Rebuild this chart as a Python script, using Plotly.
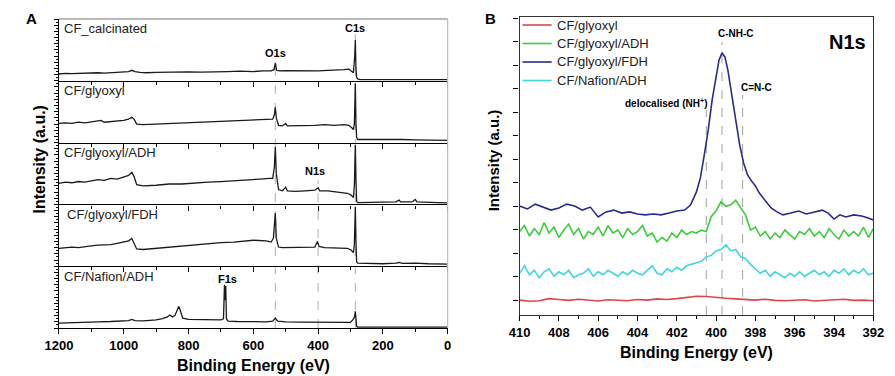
import plotly.graph_objects as go

# ---------------- Panel A data (survey spectra, arbitrary units, 0-100 per sub-panel) ----------------
names_A = ["CF_calcinated", "CF/glyoxyl", "CF/glyoxyl/ADH", "CF/glyoxyl/FDH", "CF/Nafion/ADH"]

e_calc = [1200, 1180, 1160, 1140, 1120, 1100, 1080, 1060, 1040, 1020, 1000, 985, 975, 965, 950, 930, 900, 870,
          840, 800, 760, 720, 680, 640, 600, 570, 545, 536, 532, 528, 520, 500, 470, 440, 400, 370, 340, 320, 305,
          296, 291, 287, 285, 283, 281, 278, 270, 240, 200, 160, 120, 80, 40, 0]
i_calc = [11, 12, 11.5, 12, 12.5, 12, 13, 12.5, 13, 13.5, 14, 15, 17, 15, 13.5, 13, 13.5, 14,
          14, 14.5, 14, 15, 15, 15.5, 15, 16, 16, 18, 29, 17, 16, 16.5, 16, 16.5, 16, 17, 17, 18, 19,
          16, 13, 40, 66, 20, 6, 3, 2, 2, 2, 2.5, 2, 2, 2.5, 2]

e_gly = [1200, 1180, 1160, 1140, 1120, 1100, 1070, 1060, 1040, 1020, 1000, 985, 975, 968, 960, 940, 900, 860,
         820, 780, 740, 700, 660, 620, 580, 550, 540, 535, 532, 529, 522, 510, 500, 495, 470, 440, 410, 380, 350,
         320, 305, 296, 291, 288, 285, 283, 281, 278, 260, 230, 200, 170, 150, 140, 100, 60, 30, 0]
i_gly = [31, 32, 31, 33, 32, 34, 36, 33, 34, 35, 36, 38, 41, 38, 30, 29, 30, 31,
         32, 33, 34, 35, 36, 36, 37, 38, 38, 45, 57, 40, 28, 27, 31, 27, 27, 28, 28, 29, 28,
         29, 28, 24, 21, 30, 96, 30, 8, 5, 5, 5.5, 5, 5, 6, 5, 4.5, 4, 4, 3.5]

e_adh = [1200, 1180, 1160, 1140, 1120, 1100, 1080, 1060, 1040, 1020, 1000, 985, 975, 968, 960, 940, 900, 860,
         820, 780, 740, 700, 660, 620, 580, 550, 540, 535, 532, 529, 522, 510, 500, 495, 470, 440, 410, 400, 395,
         370, 340, 310, 298, 291, 288, 285, 283, 281, 278, 250, 200, 160, 150, 145, 110, 100, 95, 60, 30, 0]
i_adh = [34, 36, 35, 37, 36, 38, 40, 39, 42, 41, 44, 47, 52, 45, 32, 30, 31, 33,
         33, 35, 36, 37, 38, 40, 41, 42, 42, 60, 93, 50, 24, 22, 28, 22, 21, 22, 23, 27, 22,
         22, 20, 18, 15, 11, 30, 96, 40, 5, 3, 3, 3.5, 4, 7, 4, 4, 8, 4, 3, 3, 2.5]

e_fdh = [1200, 1180, 1160, 1140, 1120, 1100, 1080, 1060, 1040, 1020, 1000, 985, 975, 968, 960, 940, 900, 860,
         820, 780, 740, 700, 660, 620, 600, 560, 545, 538, 532, 529, 522, 510, 470, 440, 410, 402, 397, 380, 350,
         310, 298, 291, 288, 285, 283, 281, 278, 240, 200, 160, 150, 140, 100, 60, 30, 0]
i_fdh = [29, 30, 31, 30, 32, 33, 34, 34, 35, 37, 39, 41, 45, 38, 28, 27, 29, 31,
         33, 34, 36, 38, 39, 41, 42, 41, 39, 45, 86, 45, 31, 30, 30, 30, 31, 40, 32, 30, 30,
         29, 26, 22, 35, 96, 40, 7, 5, 4.5, 4, 5, 6, 4.5, 5, 4, 4, 3.5]

e_naf = [1200, 1160, 1120, 1080, 1040, 1000, 985, 975, 965, 940, 900, 880, 865, 858, 850, 842, 835, 830, 825,
         818, 800, 760, 720, 700, 692, 689, 687, 685, 683, 678, 650, 600, 560, 540, 532, 525, 500, 450, 400, 350,
         310, 300, 292, 288, 285, 283, 281, 278, 240, 200, 160, 120, 80, 40, 0]
i_naf = [8, 9, 9.5, 10, 10.5, 11, 12, 14, 12, 11.5, 13, 15, 18, 21, 18, 20, 30, 35, 28,
         16, 14, 14, 13.5, 13, 15, 70, 45, 68, 15, 11, 10.5, 10, 10, 11, 16, 11, 10, 9.5, 9, 9,
         8.5, 9, 14, 17, 27, 15, 3, 1.5, 1.5, 1.5, 2, 2, 1.5, 2, 1.5]

survey_E = [e_calc, e_gly, e_adh, e_fdh, e_naf]
survey_I = [i_calc, i_gly, i_adh, i_fdh, i_naf]

ticks_A = [1200, 1000, 800, 600, 400, 200, 0]

# ---------------- Panel B data (N1s high resolution) ----------------
names_B = ["CF/glyoxyl", "CF/glyoxyl/ADH", "CF/glyoxyl/FDH", "CF/Nafion/ADH"]
colors_B = ["#d9474b", "#3ccc3c", "#2a2a8c", "#3fd6df"]

e_red = [410, 409.5, 409, 408.5, 408, 407.5, 407, 406.5, 406, 405.5, 405, 404.5, 404, 403.5, 403, 402.5, 402,
         401.5, 401, 400.5, 400, 399.5, 399, 398.5, 398, 397.5, 397, 396.5, 396, 395.5, 395, 394.5, 394, 393.5,
         393, 392.5, 392]
i_red = [5.0, 4.6, 4.8, 5.5, 5.2, 4.9, 5.3, 5.0, 4.7, 5.1, 5.0, 4.8, 5.2, 5.0, 5.4, 5.2, 5.5,
         5.9, 6.3, 6.2, 5.8, 5.6, 5.4, 5.3, 5.0, 5.3, 4.9, 4.8, 5.0, 5.1, 4.7, 4.9, 5.2, 5.3,
         4.9, 5.0, 4.8]

e_grid = [410.0, 409.75, 409.5, 409.25, 409.0, 408.75, 408.5, 408.25, 408.0, 407.75, 407.5, 407.25, 407.0,
          406.75, 406.5, 406.25, 406.0, 405.75, 405.5, 405.25, 405.0, 404.75, 404.5, 404.25, 404.0, 403.75,
          403.5, 403.25, 403.0, 402.75, 402.5, 402.25, 402.0, 401.75, 401.5, 401.25, 401.0, 400.75, 400.5,
          400.25, 400.0, 399.75, 399.5, 399.25, 399.0, 398.75, 398.5, 398.25, 398.0, 397.75, 397.5, 397.25,
          397.0, 396.75, 396.5, 396.25, 396.0, 395.75, 395.5, 395.25, 395.0, 394.75, 394.5, 394.25, 394.0,
          393.75, 393.5, 393.25, 393.0, 392.75, 392.5, 392.25, 392.0]
i_green = [28, 30, 26.5, 29, 27, 31, 27.5, 29.5, 26, 28.5, 30.5, 27, 29,
           25.5, 28, 27, 29.5, 26.5, 30, 27.5, 28.5, 26, 29, 27, 28, 30,
           26.5, 27.5, 24.5, 26, 24.8, 27.5, 26, 28.5, 27, 28, 27.5, 28.5, 28,
           33, 35, 38, 36.5, 37, 38.5, 36, 33.5, 28.5, 29.5, 26.5, 28, 25.5,
           27.5, 26, 28.5, 27, 25.5, 28, 27, 29, 26.5, 28, 26, 29, 27,
           25.5, 28.5, 26.5, 28, 26.5, 29.5, 26, 29]
i_cyan = [14, 16.5, 13.5, 15, 12.5, 14.5, 15.5, 13, 14.5, 13.5, 15, 12.5, 13.5,
          14, 15.5, 13, 14.5, 13.5, 15, 14, 13, 14.5, 13.5, 15, 14, 13.5,
          15, 16.5, 14, 13.5, 15.5, 14.5, 16, 15, 16.5, 17, 17.5, 18, 19.5,
          20, 21.5, 22, 23.5, 21.5, 22, 19.5, 19, 17, 15.5, 14, 15, 13,
          14.5, 13.5, 12.5, 14, 13, 14.5, 13, 14, 15, 13.5, 14.5, 13, 15,
          14, 15.5, 13.5, 15, 14, 15.5, 13.5, 14]

e_blue = [410, 409.6, 409.2, 408.8, 408.4, 408.0, 407.6, 407.2, 406.8, 406.4, 406.0, 405.6, 405.2, 404.8, 404.4,
          404.0, 403.6, 403.2, 402.8, 402.4, 402.0, 401.6, 401.3, 401.0, 400.8, 400.6, 400.4, 400.2, 400.0, 399.85,
          399.7, 399.55, 399.4, 399.2, 399.0, 398.8, 398.6, 398.4, 398.2, 398.0, 397.8, 397.5, 397.2, 396.9, 396.6,
          396.2, 395.8, 395.4, 395.0, 394.6, 394.3, 394.0, 393.7, 393.4, 393.0, 392.6, 392.3, 392.0]
i_blue = [36.6, 35.6, 37.2, 36.2, 35.2, 35.9, 37.2, 36.6, 35.2, 36.2, 32.9, 34.6, 35.2, 34.2, 34.6,
          33.9, 33.6, 33.9, 33.6, 34.2, 34.9, 35.2, 36.9, 41.3, 46.0, 53.7, 62.1, 72.2, 80.5, 85.6,
          87.9, 86.6, 82.2, 73.8, 64.8, 57.1, 51.0, 47.0, 45.0, 43.3, 40.9, 38.3, 35.9, 34.6, 33.6,
          34.2, 34.9, 33.9, 34.6, 35.2, 34.2, 32.2, 33.6, 32.9, 33.6, 33.2, 32.6, 31.9]

n1s_E = [e_red, e_grid, e_blue, e_grid]
n1s_I = [i_red, i_green, i_blue, i_cyan]
ticks_B = [410, 408, 406, 404, 402, 400, 398, 396, 394, 392]

# ---------------- layout helpers (page body has an 8px margin) ----------------
WIN_W, WIN_H, OFF = 895, 376, 8
W, H = WIN_W - OFF, WIN_H - OFF
def px_x(p): return (p - OFF) / W
def px_y(p): return 1 - (p - OFF) / H

FONT = "Arial, Liberation Sans, sans-serif"
A_left, A_right = 46, 446
A_bounds = [19, 80.8, 142.6, 204.4, 266.2, 328]
B_left, B_right, B_top, B_bot = 520, 884, 17, 315

fig = go.Figure()
layout = dict(width=W, height=H, margin=dict(l=0, r=0, t=0, b=0),
              paper_bgcolor="white", plot_bgcolor="white", showlegend=False,
              font=dict(family=FONT, color="black"))

for k in range(5):
    n = "" if k == 0 else str(k + 1)
    fig.add_trace(go.Scatter(x=survey_E[k], y=survey_I[k], mode="lines", name=names_A[k],
                             line=dict(color="#1a1a1a", width=1.3),
                             xaxis="x" + n, yaxis="y" + n, hoverinfo="skip"))
    last = (k == 4)
    layout["xaxis" + n] = dict(domain=[px_x(A_left), px_x(A_right)], range=[1200, 0], anchor="y" + n,
                               showline=True, linecolor="black", linewidth=1.2, mirror=False,
                               ticks="outside", tickvals=ticks_A, ticklen=5, tickwidth=1, tickcolor="black",
                               minor=dict(dtick=100, ticklen=3, ticks="outside", tickcolor="black"),
                               showticklabels=last, showgrid=False, zeroline=False,
                               tickfont=dict(size=13, weight="bold", family=FONT),
                               matches=None if k == 0 else "x")
    layout["yaxis" + n] = dict(domain=[px_y(A_bounds[k + 1]), px_y(A_bounds[k])], range=[0, 100],
                               anchor="x" + n, showline=True, linecolor="black", linewidth=1.2,
                               ticks="outside", tick0=0, dtick=10, ticklen=4, tickcolor="black",
                               minor=dict(dtick=5, ticklen=2, ticks="outside", tickcolor="black"),
                               showticklabels=False, showgrid=False, zeroline=False)

for k in range(4):
    fig.add_trace(go.Scatter(x=n1s_E[k], y=n1s_I[k], mode="lines", name=names_B[k],
                             line=dict(color=colors_B[k], width=1.6),
                             xaxis="x6", yaxis="y6", hoverinfo="skip"))

layout["xaxis6"] = dict(domain=[px_x(B_left), px_x(B_right)], range=[410, 392], anchor="y6",
                        showline=True, linecolor="#333", linewidth=1.2, mirror=True,
                        ticks="outside", tickvals=ticks_B, ticklen=5, tickcolor="black",
                        minor=dict(dtick=1, ticklen=3, ticks="outside", tickcolor="black"),
                        showgrid=False, zeroline=False, tickfont=dict(size=13, weight="bold", family=FONT))
layout["yaxis6"] = dict(domain=[px_y(B_bot), px_y(B_top)], range=[0, 100], anchor="x6",
                        showline=True, linecolor="#333", linewidth=1.2, mirror=True,
                        ticks="outside", tick0=4.87, dtick=7.886, ticklen=5, tickcolor="black",
                        showticklabels=False, showgrid=False, zeroline=False)

shapes = []
# frame of panel A (top & right)
shapes.append(dict(type="line", xref="paper", yref="paper", x0=px_x(A_left), x1=px_x(A_right),
                   y0=px_y(A_bounds[0]), y1=px_y(A_bounds[0]), line=dict(color="#777", width=1.2)))
shapes.append(dict(type="line", xref="paper", yref="paper", x0=px_x(A_right), x1=px_x(A_right),
                   y0=px_y(A_bounds[5]), y1=px_y(A_bounds[0]), line=dict(color="#bbb", width=1.2)))
# guide lines panel A
for e, ytop in [(532, 66), (400, 180), (285, 34)]:
    shapes.append(dict(type="line", xref="x5", yref="paper", x0=e, x1=e, y0=px_y(A_bounds[5]),
                       y1=px_y(ytop), line=dict(color="#b0b0b0", width=1, dash="dash"), layer="below"))
# guide lines panel B
for e, ytop in [(400.5, 110), (399.7, 42), (398.65, 95)]:
    shapes.append(dict(type="line", xref="x6", yref="paper", x0=e, x1=e, y0=px_y(B_bot),
                       y1=px_y(ytop), line=dict(color="#a0a0a0", width=1, dash="dash"), layer="below"))

ann = []
def add_text(t, x, y, size, bold=False, xanchor="center", angle=0, color="black"):
    ann.append(dict(text=("<b>%s</b>" % t) if bold else t, x=px_x(x), y=px_y(y), xref="paper", yref="paper",
                    showarrow=False, xanchor=xanchor, yanchor="middle", textangle=angle,
                    font=dict(size=size, family=FONT, color=color)))

# legend of panel B (line samples + labels)
leg_y = [25, 43.5, 62, 80.5]
for k in range(4):
    shapes.append(dict(type="line", xref="paper", yref="paper", x0=px_x(523), x1=px_x(553),
                       y0=px_y(leg_y[k]), y1=px_y(leg_y[k]), line=dict(color=colors_B[k], width=1.6)))
    add_text(names_B[k], 556, leg_y[k], 13, xanchor="left", color="#222")
layout["shapes"] = shapes

label_x = [49, 49, 49, 52, 49]
for k in range(5):
    add_text(names_A[k], label_x[k], A_bounds[k] + 10, 13, xanchor="left", color="#222")
add_text("O1s", 269, 53, 11, bold=True)
add_text("C1s", 351, 28, 11, bold=True)
add_text("N1s", 310, 171, 11, bold=True)
add_text("F1s", 219, 279, 11, bold=True)
add_text("A", 18, 18, 15, bold=True)
add_text("B", 490, 19, 15, bold=True)
add_text("Intensity (a.u.)", 25, 160, 16, bold=True, angle=-90)
add_text("Intensity (a.u.)", 493, 160, 15, bold=True, angle=-90)
add_text("Binding Energy (eV)", (A_left + A_right) / 2, 365, 16, bold=True)
add_text("Binding Energy (eV)", (B_left + B_right) / 2, 352, 16, bold=True)
add_text("C-NH-C", 743, 33, 10, bold=True)
add_text("C=N-C", 764, 87, 10, bold=True)
add_text("delocalised (NH<sup>+</sup>)", 715, 103, 10, bold=True, xanchor="right")
add_text("N1s", 857, 42, 20, bold=True)
layout["annotations"] = ann

fig.update_layout(**layout)
fig.write_html("out.html")
